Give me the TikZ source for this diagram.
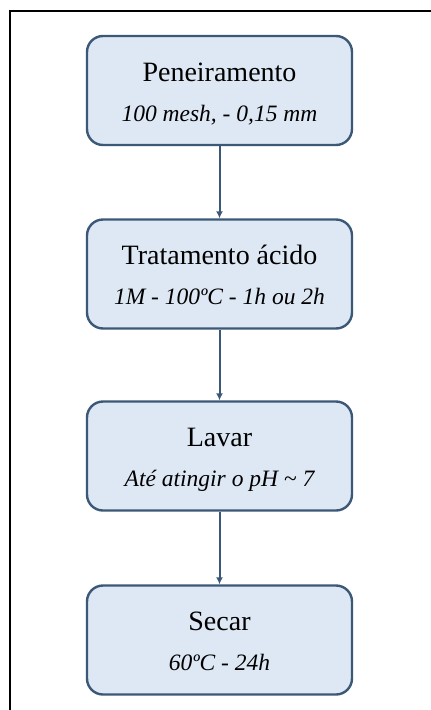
\documentclass[tikz,border=0pt]{standalone}
\usepackage{fontspec}
\setmainfont{Liberation Serif}
\usepackage[rgb]{xcolor}
\usepackage{tikz}
\usetikzlibrary{math}
\usetikzlibrary{arrows.meta}
\definecolor{stepfill}{HTML}{dee8f4}
\definecolor{stepline}{HTML}{3b5877}

\tikzset{
    stepbox/.style={
        draw=stepline, fill=stepfill, line width=2.4pt,
        rounded corners=16pt, minimum width=265pt, minimum height=109pt,
        align=center, inner sep=0pt, font=\fontsize{28}{40}\selectfont
    },
    flow/.style={stepline, line width=2pt, -{Latex[length=7pt,width=7pt]}}
}

\newcommand{\steptitle}[1]{\rule{0pt}{28pt}#1}
\newcommand{\stepinfo}[1]{{\fontsize{23.5}{40}\selectfont\itshape #1\rule[-7pt]{0pt}{7pt}}}

\begin{document}
\begin{tikzpicture}[x=1pt,y=-1pt]

% Position settings
\tikzmath{
    % Column
    \xstep = 219.5;
    % Rows
    \ystepone = 90.5;
    \ysteptwo = 274;
    \ystepthree = 456;
    \ystepfour = 640;
}

\useasboundingbox (0,0) rectangle (431,710);

% Draws the outer frame
\draw[black, line width=2pt] (9.5,712) -- (9.5,10.5) -- (433,10.5);

% Draws the steps
\node[stepbox] (peneira) at (\xstep,\ystepone)
    {\steptitle{Peneiramento}\\\stepinfo{100 mesh, - 0,15 mm}};
\node[stepbox] (acido) at (\xstep,\ysteptwo)
    {\steptitle{Tratamento ácido}\\\stepinfo{1M - 100ºC - 1h ou 2h}};
\node[stepbox] (lavar) at (\xstep,\ystepthree)
    {\steptitle{Lavar}\\\stepinfo{Até atingir o pH \char`~{} 7}};
\node[stepbox] (secar) at (\xstep,\ystepfour)
    {\steptitle{Secar}\\\stepinfo{60ºC - 24h}};

% Draws the arrows
\draw[flow] (peneira) -- (acido);
\draw[flow] (acido) -- (lavar);
\draw[flow] (lavar) -- (secar);

\end{tikzpicture}
\end{document}
